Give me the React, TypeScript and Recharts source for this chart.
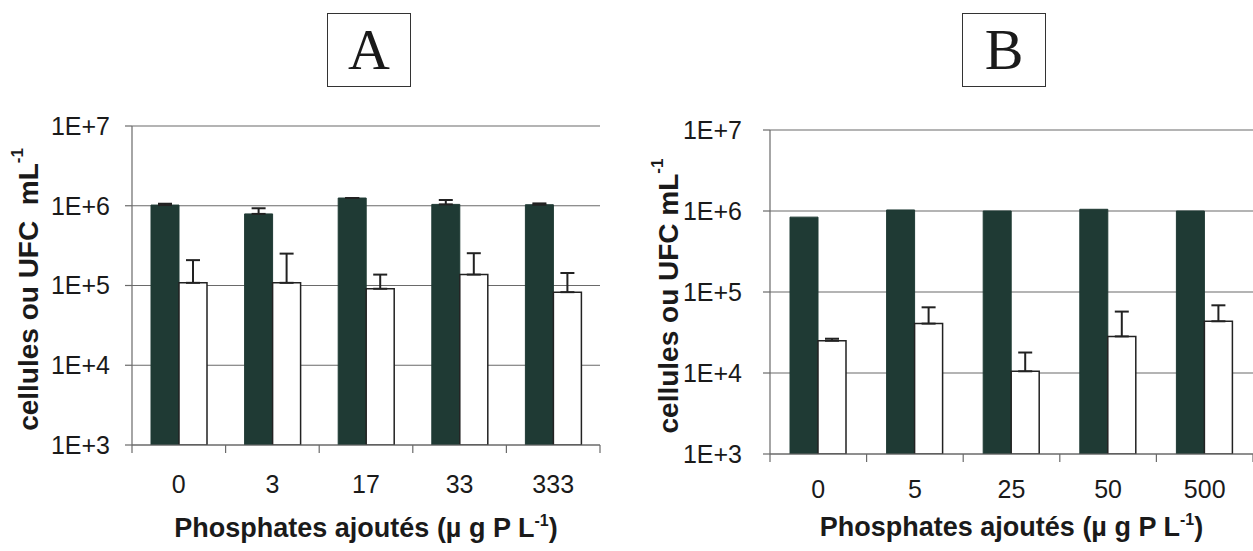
import React from 'react';
import { BarChart, Bar, XAxis, YAxis, CartesianGrid, ErrorBar } from 'recharts';

const categoriesA = ['0', '3', '17', '33', '333'];
const darkA = [1.02e6, 7.9e5, 1.25e6, 1.04e6, 1.03e6];
const darkErrA = [4e4, 1.4e5, 0, 1.4e5, 4e4];
const whiteA = [1.08e5, 1.08e5, 9.1e4, 1.37e5, 8.25e4];
const whiteErrA = [1.0e5, 1.43e5, 4.6e4, 1.17e5, 6.1e4];

const categoriesB = ['0', '5', '25', '50', '500'];
const darkB = [8.4e5, 1.03e6, 1.0e6, 1.05e6, 1.0e6];
const whiteB = [2.5e4, 4.07e4, 1.05e4, 2.83e4, 4.35e4];
const whiteErrB = [1.5e3, 2.4e4, 7.4e3, 2.9e4, 2.5e4];

const yTicks = [1e3, 1e4, 1e5, 1e6, 1e7];
const yTickLabels = ['1E+3', '1E+4', '1E+5', '1E+6', '1E+7'];

const yTitle = 'cellules ou UFC  mL';
const yTitleB = 'cellules ou UFC mL';
const xTitle = 'Phosphates ajoutés (µ g P L';

const dataA = categoriesA.map((c, i) => ({ cat: c, dark: darkA[i], darkErr: darkErrA[i], white: whiteA[i], whiteErr: whiteErrA[i] }));
const dataB = categoriesB.map((c, i) => ({ cat: c, dark: darkB[i], white: whiteB[i], whiteErr: whiteErrB[i] }));

const SANS = '"Liberation Sans", Arial, sans-serif';
const DARK = '#1f3a34';
const GRID = '#6a6a6a';

const XTick = (props: any) => {
  const { x, y, payload, index, visibleTicksCount, labelDy } = props;
  const off = payload.offset || 0;
  return (
    <g>
      <line x1={x - off} x2={x - off} y1={y} y2={y + 8} stroke={GRID} strokeWidth={1.2} />
      {index === visibleTicksCount - 1 && (
        <line x1={x + off} x2={x + off} y1={y} y2={y + 8} stroke={GRID} strokeWidth={1.2} />
      )}
      <text x={x} y={y + labelDy} textAnchor="middle" fontSize={25} fontFamily={SANS} fill="#1a1a1a">
        {payload.value}
      </text>
    </g>
  );
};

const YTitle = (props: any) => {
  const { viewBox, text, dxPos } = props;
  const cx = viewBox.x + dxPos;
  const cy = viewBox.y + viewBox.height / 2 + 4;
  return (
    <text
      x={cx}
      y={cy}
      transform={`rotate(-90, ${cx}, ${cy})`}
      textAnchor="middle"
      dominantBaseline="central"
      fontSize={28}
      fontWeight="bold"
      fontFamily={SANS}
      fill="#1a1a1a"
      style={{ whiteSpace: 'pre' }}
    >
      {text}
      <tspan fontSize={17} dy={-11}>-1</tspan>
    </text>
  );
};

const XTitle = (props: any) => {
  const { viewBox, dyPos } = props;
  const cx = viewBox.x + viewBox.width / 2;
  const cy = viewBox.y + dyPos;
  return (
    <text x={cx} y={cy} textAnchor="middle" fontSize={27} fontWeight="bold" fontFamily={SANS} fill="#1a1a1a" style={{ whiteSpace: 'pre' }}>
      {xTitle}
      <tspan fontSize={16} dy={-11}>-1</tspan>
      <tspan dy={11}>)</tspan>
    </text>
  );
};

const yFmt = (v: number) => yTickLabels[yTicks.indexOf(v)] ?? '';

const TitleBox = ({ letter, left }: { letter: string; left: number }) => (
  <div
    style={{
      position: 'absolute',
      left,
      top: 13,
      width: 84,
      height: 74,
      border: '1.5px solid #333',
      boxSizing: 'border-box',
      display: 'flex',
      alignItems: 'center',
      justifyContent: 'center',
      fontFamily: '"Liberation Serif", "Times New Roman", serif',
      fontSize: 58,
      color: '#1a1a1a',
      lineHeight: 1,
    }}
  >
    {letter}
  </div>
);

export default function App() {
  return (
    <div style={{ position: 'absolute', left: 0, top: 0, width: 1253, height: 551, background: '#ffffff', overflow: 'hidden' }}>
      <TitleBox letter="A" left={327} />
      <TitleBox letter="B" left={962} />
      <div style={{ position: 'absolute', left: 0, top: 0 }}>
        <BarChart width={620} height={551} data={dataA} margin={{ top: 126, right: 20, left: 0, bottom: 0 }} barGap={0} barSize={28}>
          <CartesianGrid vertical={false} stroke={GRID} strokeWidth={1.2} />
          <XAxis
            dataKey="cat"
            height={106}
            tickLine={false}
            tickSize={0}
            tickMargin={0}
            axisLine={{ stroke: GRID, strokeWidth: 1.2 }}
            tick={<XTick labelDy={48} />}
            interval={0}
            label={<XTitle dyPos={92} />}
          />
          <YAxis
            type="number"
            scale="log"
            domain={[1000, 1e7]}
            allowDataOverflow
            ticks={yTicks}
            tickFormatter={yFmt}
            width={132}
            tickSize={7}
            tickMargin={15}
            tickLine={{ stroke: GRID, strokeWidth: 1.2 }}
            axisLine={{ stroke: GRID, strokeWidth: 1.2 }}
            tick={{ fontSize: 25, fontFamily: SANS, fill: '#1a1a1a' }}
            label={<YTitle text={yTitle} dxPos={28} />}
          />
          <Bar dataKey="dark" fill={DARK} stroke={DARK} isAnimationActive={false}>
            <ErrorBar dataKey={(d: any) => [0, d.darkErr]} direction="y" width={7} stroke="#222" strokeWidth={2} />
          </Bar>
          <Bar dataKey="white" fill="#ffffff" stroke="#222" strokeWidth={1.5} isAnimationActive={false}>
            <ErrorBar dataKey={(d: any) => [0, d.whiteErr]} direction="y" width={7} stroke="#222" strokeWidth={2} />
          </Bar>
        </BarChart>
      </div>
      <div style={{ position: 'absolute', left: 630, top: 0 }}>
        <BarChart width={623} height={551} data={dataB} margin={{ top: 130, right: 0, left: 0, bottom: 0 }} barGap={0} barSize={28}>
          <CartesianGrid vertical={false} stroke={GRID} strokeWidth={1.2} />
          <XAxis
            dataKey="cat"
            height={97}
            tickLine={false}
            tickSize={0}
            tickMargin={0}
            axisLine={{ stroke: GRID, strokeWidth: 1.2 }}
            tick={<XTick labelDy={44} />}
            interval={0}
            label={<XTitle dyPos={82} />}
          />
          <YAxis
            type="number"
            scale="log"
            domain={[1000, 1e7]}
            allowDataOverflow
            ticks={yTicks}
            tickFormatter={yFmt}
            width={140}
            tickSize={7}
            tickMargin={21}
            tickLine={{ stroke: GRID, strokeWidth: 1.2 }}
            axisLine={{ stroke: GRID, strokeWidth: 1.2 }}
            tick={{ fontSize: 25, fontFamily: SANS, fill: '#1a1a1a' }}
            label={<YTitle text={yTitleB} dxPos={38} />}
          />
          <Bar dataKey="dark" fill={DARK} stroke={DARK} isAnimationActive={false} />
          <Bar dataKey="white" fill="#ffffff" stroke="#222" strokeWidth={1.5} isAnimationActive={false}>
            <ErrorBar dataKey={(d: any) => [0, d.whiteErr]} direction="y" width={7} stroke="#222" strokeWidth={2} />
          </Bar>
        </BarChart>
      </div>
    </div>
  );
}
